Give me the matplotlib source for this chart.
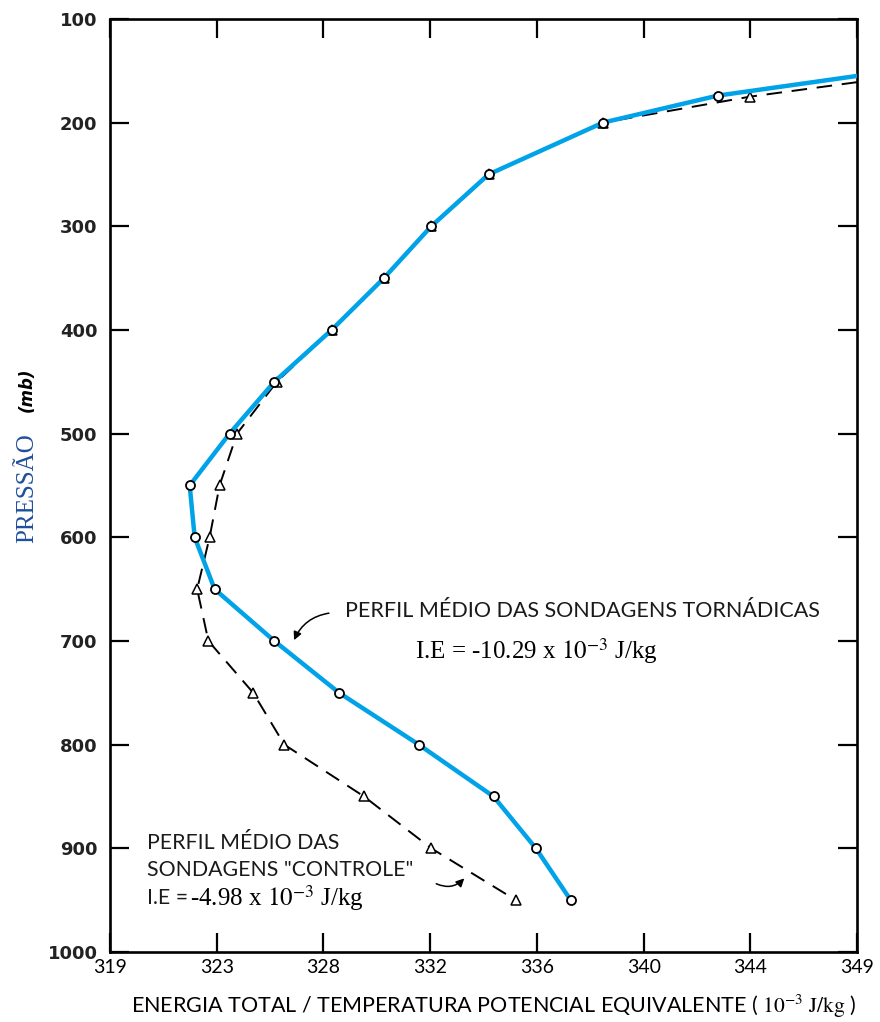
import matplotlib
matplotlib.use('Agg')
import matplotlib.pyplot as plt
import numpy as np

plt.rcParams['mathtext.fontset'] = 'stix'

# perfil medio das sondagens tornadicas (linha azul)
pressao_torn = [155, 174, 200, 250, 300, 350, 400, 450, 500, 550, 600, 650, 700, 750, 800, 850, 900, 950]
energia_torn = [349.0, 343.4, 338.8, 334.2, 331.9, 330.0, 327.9, 325.6, 323.8, 322.2, 322.4, 323.2,
                325.6, 328.2, 331.4, 334.4, 336.1, 337.5]

# perfil medio das sondagens "controle" (linha tracejada)
pressao_ctrl = [161, 175, 200, 250, 300, 350, 400, 450, 500, 550, 600, 650, 700, 750, 800, 850, 900, 950]
energia_ctrl = [349.0, 344.7, 338.8, 334.2, 331.9, 330.0, 327.9, 325.7, 324.1, 323.4, 323.0, 322.5,
                322.95, 324.75, 326.0, 329.2, 331.9, 335.3]

x_ticklabels = ['319', '323', '328', '332', '336', '340', '344', '349']
y_ticks = [100, 200, 300, 400, 500, 600, 700, 800, 900, 1000]

fig = plt.figure(figsize=(8.8, 10.22), dpi=100)
ax = fig.add_axes([0.125, 0.0685, 0.849, 0.913])

# controle: tracejada com triangulos
ax.plot(energia_ctrl, pressao_ctrl, color='black', lw=1.4, dashes=(8, 5),
        marker='^', ms=7, mfc='white', mec='black', mew=1.1,
        markevery=list(range(1, len(pressao_ctrl))), zorder=2)
# tornadicas: azul com circulos
ax.plot(energia_torn, pressao_torn, color='#00a2e8', lw=3.2,
        marker='o', ms=6.5, mfc='white', mec='black', mew=1.3,
        markevery=list(range(1, len(pressao_torn))), zorder=3)

ax.set_xlim(319, 349)
ax.set_ylim(1000, 100)
ax.set_xticks(np.linspace(319, 349, 8))
ax.set_xticklabels(x_ticklabels, family='Lato', size=14)
ax.set_yticks(y_ticks)
ax.set_yticklabels([str(v) for v in y_ticks], weight='bold', size=13, color='#222222')
ax.tick_params(direction='in', length=14, width=1.6, top=True, right=True)
ax.tick_params(axis='x', pad=5)
ax.tick_params(axis='y', pad=9)
for s in ax.spines.values():
    s.set_linewidth(1.9)

# titulos dos eixos
fig.text(494 / 880, 1 - 1006 / 1022,
         'ENERGIA TOTAL / TEMPERATURA POTENCIAL EQUIVALENTE ( $10^{-3}$ $\\mathrm{J/kg}$ )',
         family='Lato', size=15.5, ha='center', va='center')
fig.text(27 / 880, 1 - 488 / 1022, 'PRESSÃO', rotation=90, family='Liberation Serif',
         size=18, color='#1f4e9c', ha='center', va='center')
fig.text(27 / 880, 1 - 390 / 1022, '(mb)', rotation=90, style='italic', weight='bold',
         size=12, ha='center', va='center')

# anotacoes
fig.text(345 / 880, 1 - 611 / 1022, 'PERFIL MÉDIO DAS SONDAGENS TORNÁDICAS',
         family='Lato', size=15.5, ha='left', va='center', color='#1a1a1a')
fig.text(415 / 880, 1 - 651 / 1022, 'I.E = -10.29 x $10^{-3}$ J/kg',
         family='Liberation Serif', size=18, ha='left', va='center')

fig.text(147 / 880, 1 - 843 / 1022, 'PERFIL MÉDIO DAS', family='Lato', size=15.3,
         ha='left', va='center', color='#1a1a1a')
fig.text(147 / 880, 1 - 870 / 1022, 'SONDAGENS "CONTROLE"', family='Lato', size=15.3,
         ha='left', va='center', color='#1a1a1a')
fig.text(147 / 880, 1 - 898 / 1022, 'I.E =', family='Lato', size=15.3,
         ha='left', va='center', color='#1a1a1a')
fig.text(190 / 880, 1 - 898 / 1022, '-4.98 x $10^{-3}$ J/kg', family='Liberation Serif',
         size=18, ha='left', va='center')

ax.annotate('', xy=(326.35, 701.7), xytext=(327.9, 672.8),
            arrowprops=dict(arrowstyle='-|>', color='black', lw=1.1, mutation_scale=12,
                            connectionstyle='arc3,rad=0.3'))
ax.annotate('', xy=(333.3, 927), xytext=(332.0, 933),
            arrowprops=dict(arrowstyle='-|>', color='black', lw=1.1, mutation_scale=12,
                            connectionstyle='arc3,rad=0.4'))

fig.savefig('out.png', dpi=100)
